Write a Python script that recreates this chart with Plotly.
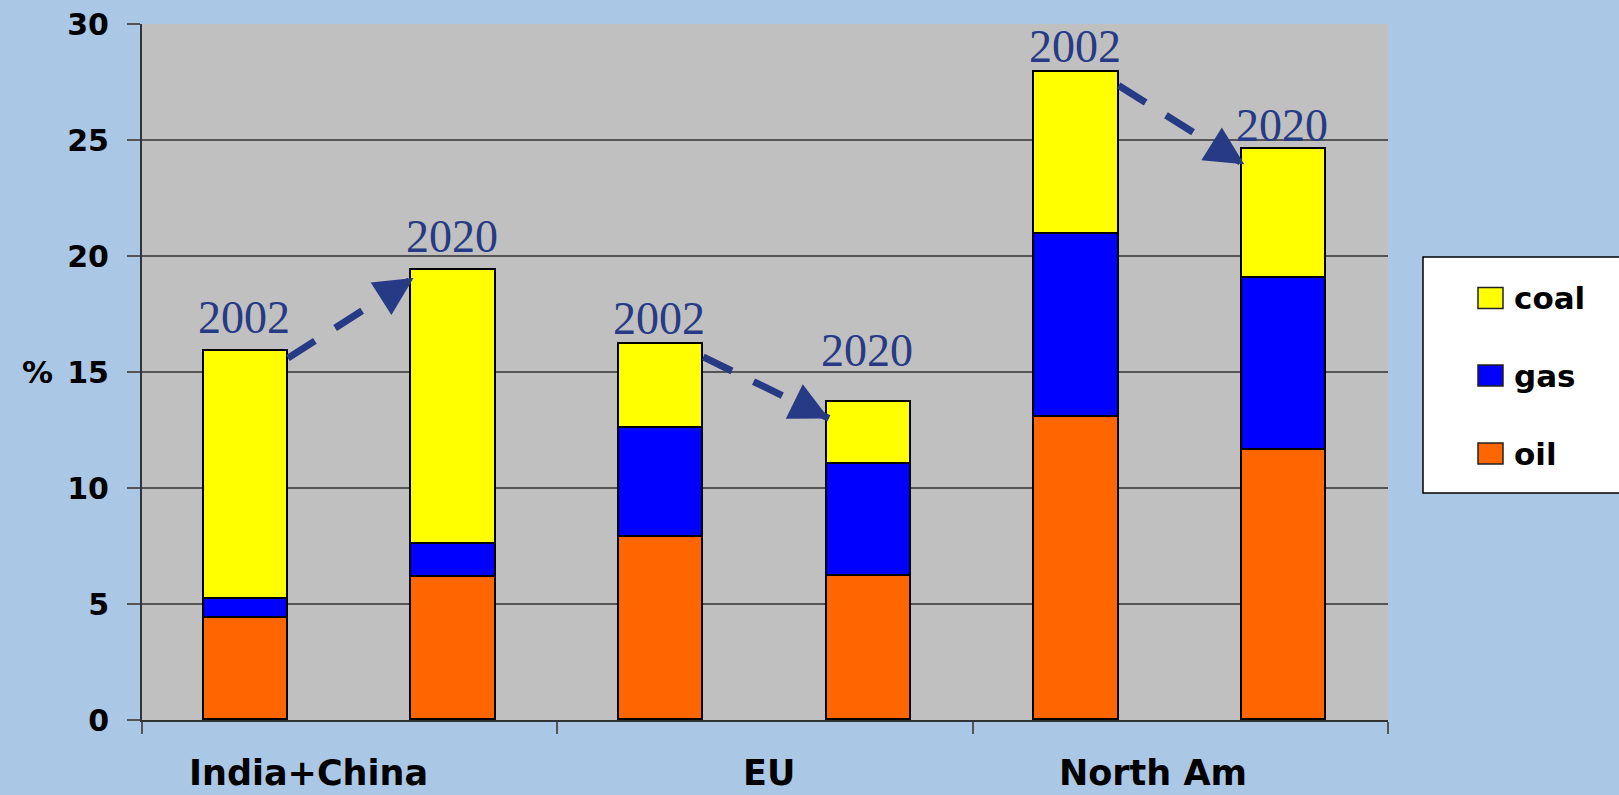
import plotly.graph_objects as go

# ---------------- data ----------------
regions = ["India+China", "EU", "North Am"]
years = ["2002", "2020"]
oil = [4.4, 6.15, 7.9, 6.2, 13.05, 11.65]
gas = [0.8, 1.45, 4.7, 4.85, 7.9, 7.4]
coal = [10.7, 11.8, 3.6, 2.65, 7.0, 5.55]
series_names = ["oil", "gas", "coal"]
y_ticks = [0, 5, 10, 15, 20, 25, 30]

# ---------------- style ----------------
W, H = 1619, 795
ML, MR, MT, MB = 142, 231, 24, 75
PW, PH = W - ML - MR, H - MT - MB
XMAX, YMAX = 6, 30
colors = {"oil": "#FF6600", "gas": "#0000FF", "coal": "#FFFF00"}
navy = "#263A86"
bar_w = 0.405
bar_x = [i + 0.5 for i in range(len(oil))]
totals = [o + g + c for o, g, c in zip(oil, gas, coal)]
year_labels = [years[i % 2] for i in range(len(oil))]
year_gap_px = [17, 17, 9.5, 35, 9, 7.5]
start_off = [0.3, 0.55, 0.6]
tip_off = [0.35, 0.7, 0.65]
label_x = [0.80, 3.02, 4.87]

def px_x(v):
    return (v - ML) / PW

def px_y(v):
    return (MT + PH - v) / PH

fig = go.Figure()
series = {"oil": oil, "gas": gas, "coal": coal}
for name in series_names:
    fig.add_trace(go.Bar(
        x=bar_x, y=series[name], width=bar_w, name=name,
        marker=dict(color=colors[name], line=dict(color="#000000", width=1.8)),
        showlegend=False,
    ))

# dashed arrows
ux = PW / XMAX
uy = PH / YMAX
for k in range(3):
    i1, i2 = 2 * k, 2 * k + 1
    xs = bar_x[i1] + bar_w / 2
    ys = totals[i1] - start_off[k]
    xt = bar_x[i2] - bar_w / 2 + 0.01
    yt = totals[i2] - tip_off[k]
    fig.add_trace(go.Scatter(
        x=[xs, xt], y=[ys, yt], mode="lines",
        line=dict(color=navy, width=7, dash="32px,24px"),
        showlegend=False, hoverinfo="skip",
    ))
    dxp = (xt - xs) * ux
    dyp = -(yt - ys) * uy
    L = (dxp ** 2 + dyp ** 2) ** 0.5
    fig.add_annotation(
        x=xt, y=yt, xref="x", yref="y", text="",
        showarrow=True, arrowhead=2, arrowsize=1.1, arrowwidth=7,
        arrowcolor=navy, ax=-dxp * 18 / L, ay=-dyp * 18 / L,
    )

# year labels
for i in range(len(oil)):
    fig.add_annotation(
        x=bar_x[i], y=totals[i], xref="x", yref="y",
        text=year_labels[i], showarrow=False,
        yanchor="bottom", xanchor="center", xshift=-2,
        yshift=year_gap_px[i] - 11,
        font=dict(family="Liberation Serif, Times New Roman, serif", size=46, color=navy),
    )

# region labels
for lx, name in zip(label_x, regions):
    fig.add_annotation(
        x=lx, y=px_y(773), xref="x", yref="paper", text=name,
        showarrow=False, xanchor="center", yanchor="middle",
        font=dict(family="DejaVu Sans", size=35, color="#000000", weight="bold"),
    )

# % label
fig.add_annotation(
    x=px_x(37), y=15, xref="paper", yref="y", text="%", showarrow=False,
    xanchor="center", yanchor="middle",
    font=dict(family="DejaVu Sans", size=31, color="#000000", weight="bold"),
)

# custom legend
shapes = []
shapes.append(dict(type="rect", xref="paper", yref="paper",
                   x0=px_x(1423), x1=px_x(1640), y0=px_y(493), y1=px_y(257),
                   fillcolor="#FFFFFF", line=dict(color="#000000", width=1.5), layer="above"))
leg_rows = [("coal", 298), ("gas", 375.5), ("oil", 453.5)]
for name, cy in leg_rows:
    shapes.append(dict(type="rect", xref="paper", yref="paper",
                       x0=px_x(1478), x1=px_x(1503), y0=px_y(cy + 10.5), y1=px_y(cy - 10.5),
                       fillcolor=colors[name], line=dict(color="#222222", width=1.5), layer="above"))
    fig.add_annotation(
        x=px_x(1512), y=px_y(cy), xref="paper", yref="paper", text=name,
        showarrow=False, xanchor="left", yanchor="middle",
        font=dict(family="DejaVu Sans", size=31, color="#000000", weight="bold"),
    )

fig.update_layout(
    width=W, height=H,
    margin=dict(l=ML, r=MR, t=MT, b=MB, autoexpand=False),
    paper_bgcolor="#AAC7E5", plot_bgcolor="#C0C0C0",
    barmode="stack", bargap=0, showlegend=False,
    shapes=shapes,
    xaxis=dict(range=[0, XMAX], tickvals=[0, 2, 4, 6], ticktext=["", "", "", ""],
               ticks="outside", ticklen=12, tickwidth=1.5, tickcolor="#555555",
               showgrid=False, zeroline=False, showline=True, linecolor="#333333", linewidth=2,
               automargin=False),
    yaxis=dict(range=[0, YMAX], tickvals=y_ticks, ticks="outside", ticklen=13,
               tickwidth=1.5, tickcolor="#555555", showgrid=True, gridcolor="#555555",
               gridwidth=1.5, zeroline=False, showline=True, linecolor="#333333", linewidth=2,
               ticklabelstandoff=12, automargin=False,
               tickfont=dict(family="DejaVu Sans", size=30, color="#000000", weight="bold")),
)

fig.write_html("out.html")
